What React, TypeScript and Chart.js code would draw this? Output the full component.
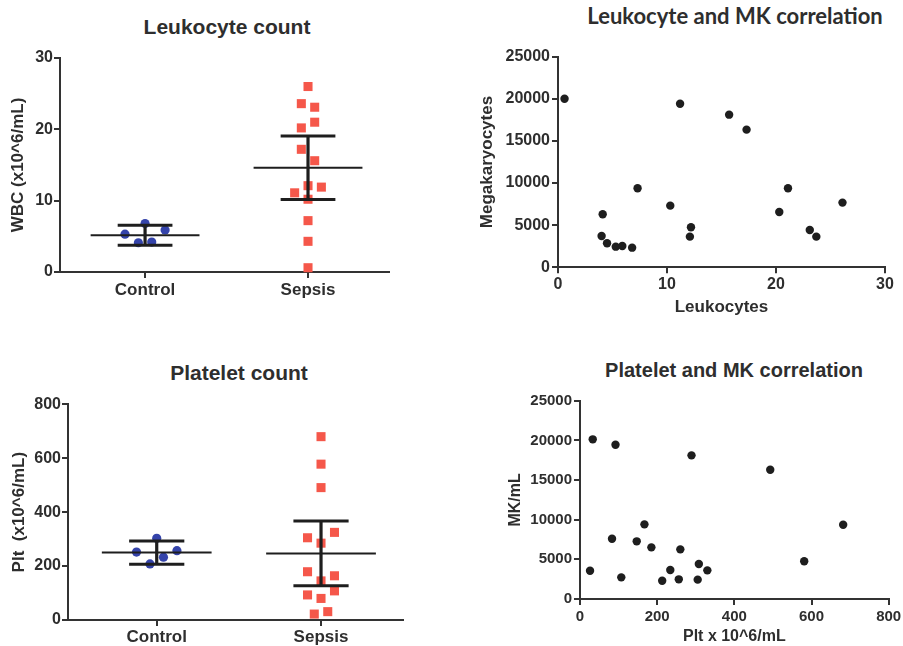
import React, { useEffect, useRef } from 'react';
import { Chart, registerables } from 'chart.js';

Chart.register(...registerables);

// ---------------- data ----------------
const CATEGORIES = ['Control', 'Sepsis'];

const WBC_CONTROL = [5.3, 6.8, 5.9, 4.1, 4.2];
const WBC_SEPSIS = [26.0, 23.6, 23.1, 21.0, 20.2, 17.2, 15.6, 12.1, 11.9, 11.1, 10.2, 7.2, 4.3, 0.6];
const WBC_MEAN = [5.15, 14.6];
const WBC_SD = [1.4, 4.45];
const WBC_TICKS = [0, 10, 20, 30];

const PLT_CONTROL = [252, 303, 257, 208, 233];
const PLT_SEPSIS = [680, 578, 491, 325, 305, 285, 179, 164, 145, 108, 93, 80, 31, 22];
const PLT_MEAN = [250, 247];
const PLT_SD = [43, 120];
const PLT_TICKS = [0, 200, 400, 600, 800];

const LEUKOCYTES = [0.6, 11.2, 15.7, 17.3, 7.3, 21.1, 10.3, 26.1, 20.3, 4.1, 12.2, 23.1, 4.0, 12.1, 23.7, 4.5, 5.3, 5.9, 6.8];
const MEGAKARYOCYTES = [20000, 19420, 18120, 16340, 9380, 9380, 7320, 7680, 6570, 6290, 4750, 4430, 3720, 3640, 3640, 2850, 2450, 2530, 2330];
const LEUKO_TICKS = [0, 10, 20, 30];
const MK_TICKS = [0, 5000, 10000, 15000, 20000, 25000];

const PLATELETS = [33, 92, 289, 493, 167, 682, 83, 147, 185, 260, 581, 308, 26, 234, 330, 107, 213, 256, 305];
const MK_PER_ML = [20130, 19450, 18110, 16300, 9410, 9370, 7600, 7270, 6510, 6260, 4750, 4410, 3570, 3660, 3610, 2730, 2310, 2480, 2440];
const PLT_X_TICKS = [0, 200, 400, 600, 800];

// ---------------- layout / style ----------------
const WBC_CONTROL_SLOT = [-3, 0, 3, -1, 1];
const WBC_SEPSIS_SLOT = [0, -1, 1, 1, -1, -1, 1, 0, 2, -2, 0, 0, 0, 0];
const PLT_CONTROL_SLOT = [-3, 0, 3, -1, 1];
const PLT_SEPSIS_SLOT = [0, 0, 0, 2, -2, 0, -2, 2, 0, 2, -2, 0, 1, -1];

const SLOT = 0.041;
const MEAN_HALF = 0.334;
const CAP_HALF = 0.168;

const FONT = '"Liberation Sans", Arial, Helvetica, sans-serif';
const TEXT = '#2e2e2e';
const AXIS = '#333333';
const BLUE = '#3443aa';
const RED = '#f5574a';
const DOT = '#1e1e1e';

Chart.defaults.font.family = FONT;
Chart.defaults.color = TEXT;

function fixedTicks(values: number[]) {
  return (s: any) => {
    s.ticks = values.map((v) => ({ value: v }));
  };
}

function axisBase(tickFont: number, tickPad: number) {
  return {
    ticks: { font: { size: tickFont, weight: 'bold' }, color: TEXT, padding: tickPad, autoSkip: false, maxRotation: 0 },
    grid: { drawOnChartArea: false, drawTicks: true, tickLength: 6, color: AXIS, lineWidth: 2 },
    border: { display: true, color: AXIS, width: 2 },
  };
}

function seg(data: { x: number; y: number }[], w: number) {
  return {
    data,
    showLine: true,
    borderColor: '#1e1e1e',
    borderWidth: w,
    pointRadius: 0,
    borderCapStyle: 'butt',
    fill: false,
    order: 0,
    clip: false,
  };
}

type DotOpts = {
  control: number[];
  sepsis: number[];
  controlSlot: number[];
  sepsisSlot: number[];
  mean: number[];
  sd: number[];
  yTicks: number[];
  yTitle: string;
  xMin: number;
  xMax: number;
  yWidth: number;
  xHeight: number;
  padTop: number;
  padRight: number;
  yTitlePad: number;
  xLabelPad: number;
};

function dotPlot(o: DotOpts) {
  const errorSets: any[] = [];
  o.mean.forEach((m, i) => {
    const x = i + 1;
    const s = o.sd[i];
    errorSets.push(seg([{ x, y: m - s }, { x, y: m + s }], 3.2));
    errorSets.push(seg([{ x: x - MEAN_HALF, y: m }, { x: x + MEAN_HALF, y: m }], 2));
    errorSets.push(seg([{ x: x - CAP_HALF, y: m + s }, { x: x + CAP_HALF, y: m + s }], 3));
    errorSets.push(seg([{ x: x - CAP_HALF, y: m - s }, { x: x + CAP_HALF, y: m - s }], 3));
  });
  const datasets = [
    ...errorSets,
    {
      data: o.control.map((v, j) => ({ x: 1 + o.controlSlot[j] * SLOT, y: v })),
      pointStyle: 'circle',
      pointRadius: 4.6,
      backgroundColor: BLUE,
      borderWidth: 0,
      order: 1,
      clip: false,
    },
    {
      data: o.sepsis.map((v, j) => ({ x: 2 + o.sepsisSlot[j] * SLOT, y: v })),
      pointStyle: 'rect',
      pointRadius: 6.4,
      backgroundColor: RED,
      borderWidth: 0,
      order: 1,
      clip: false,
    },
  ];
  const xb = axisBase(17, o.xLabelPad);
  const yb = axisBase(16, 1);
  return {
    type: 'scatter',
    data: { datasets },
    options: {
      responsive: false,
      animation: false,
      events: [],
      devicePixelRatio: 1,
      layout: { padding: { top: o.padTop, right: o.padRight, left: 0, bottom: 0 } },
      plugins: { legend: { display: false }, tooltip: { enabled: false }, title: { display: false } },
      scales: {
        x: {
          type: 'linear',
          min: o.xMin,
          max: o.xMax,
          afterBuildTicks: fixedTicks(CATEGORIES.map((_, i) => i + 1)),
          afterFit: (s: any) => {
            s.height = o.xHeight;
          },
          ...xb,
          ticks: { ...xb.ticks, callback: (v: any) => CATEGORIES[Math.round(v) - 1] ?? '' },
        },
        y: {
          type: 'linear',
          min: o.yTicks[0],
          max: o.yTicks[o.yTicks.length - 1],
          afterBuildTicks: fixedTicks(o.yTicks),
          afterFit: (s: any) => {
            s.width = o.yWidth;
          },
          ...yb,
          ticks: { ...yb.ticks, callback: (v: any) => String(v) },
          title: {
            display: true,
            text: o.yTitle,
            font: { size: 17, weight: 'bold' },
            color: TEXT,
            padding: { top: o.yTitlePad, bottom: 0 },
          },
        },
      },
    },
  };
}

type ScatterOpts = {
  xs: number[];
  ys: number[];
  xTicks: number[];
  yTicks: number[];
  xTitle: string;
  yTitle: string;
  titleFont: number;
  xTickFont: number;
  yTickFont: number;
  yWidth: number;
  xHeight: number;
  padTop: number;
  padRight: number;
  yTitlePad: number;
  xTitlePad: number;
  xLabelPad: number;
};

function scatterPlot(o: ScatterOpts) {
  const xb = axisBase(o.xTickFont, o.xLabelPad);
  const yb = axisBase(o.yTickFont, 2);
  return {
    type: 'scatter',
    data: {
      datasets: [
        {
          data: o.xs.map((x, i) => ({ x, y: o.ys[i] })),
          pointStyle: 'circle',
          pointRadius: 4.2,
          backgroundColor: DOT,
          borderWidth: 0,
          clip: false,
        },
      ],
    },
    options: {
      responsive: false,
      animation: false,
      events: [],
      devicePixelRatio: 1,
      layout: { padding: { top: o.padTop, right: o.padRight, left: 0, bottom: 0 } },
      plugins: { legend: { display: false }, tooltip: { enabled: false }, title: { display: false } },
      scales: {
        x: {
          type: 'linear',
          min: o.xTicks[0],
          max: o.xTicks[o.xTicks.length - 1],
          afterBuildTicks: fixedTicks(o.xTicks),
          afterFit: (s: any) => {
            s.height = o.xHeight;
          },
          ...xb,
          ticks: { ...xb.ticks, callback: (v: any) => String(v) },
          title: {
            display: true,
            text: o.xTitle,
            font: { size: o.titleFont, weight: 'bold' },
            color: TEXT,
            padding: { top: 0, bottom: o.xTitlePad },
          },
        },
        y: {
          type: 'linear',
          min: o.yTicks[0],
          max: o.yTicks[o.yTicks.length - 1],
          afterBuildTicks: fixedTicks(o.yTicks),
          afterFit: (s: any) => {
            s.width = o.yWidth;
          },
          ...yb,
          ticks: { ...yb.ticks, callback: (v: any) => String(v) },
          title: {
            display: true,
            text: o.yTitle,
            font: { size: o.titleFont, weight: 'bold' },
            color: TEXT,
            padding: { top: o.yTitlePad, bottom: 0 },
          },
        },
      },
    },
  };
}

function Panel({ left, top, width, height, build }: { left: number; top: number; width: number; height: number; build: () => any }) {
  const ref = useRef<HTMLCanvasElement>(null);
  useEffect(() => {
    const chart = new Chart(ref.current as HTMLCanvasElement, build());
    return () => chart.destroy();
  }, []);
  return (
    <canvas
      ref={ref}
      width={width}
      height={height}
      style={{ position: 'absolute', left, top, width, height, display: 'block' }}
    />
  );
}

function Title({ text, cx, cy, size, family }: { text: string; cx: number; cy: number; size: number; family?: string }) {
  return (
    <div
      style={{
        position: 'absolute',
        left: cx,
        top: cy,
        transform: 'translate(-50%, -50%)',
        whiteSpace: 'nowrap',
        fontFamily: family || FONT,
        fontWeight: 'bold',
        fontSize: size,
        lineHeight: 1,
        color: TEXT,
      }}
    >
      {text}
    </div>
  );
}

export default function App() {
  return (
    <div
      style={{
        position: 'absolute',
        left: 0,
        top: 0,
        width: 903,
        height: 646,
        overflow: 'hidden',
        background: '#ffffff',
      }}
    >
      <Title text="Leukocyte count" cx={227} cy={26} size={21} />
      <Title text="Leukocyte and MK correlation" cx={735} cy={16} size={22} family='Lato, "Liberation Sans", sans-serif' />
      <Title text="Platelet count" cx={239} cy={372} size={21} />
      <Title text="Platelet and MK correlation" cx={734} cy={370} size={20} />

      <Panel
        left={0}
        top={40}
        width={420}
        height={270}
        build={() =>
          dotPlot({
            control: WBC_CONTROL,
            sepsis: WBC_SEPSIS,
            controlSlot: WBC_CONTROL_SLOT,
            sepsisSlot: WBC_SEPSIS_SLOT,
            mean: WBC_MEAN,
            sd: WBC_SD,
            yTicks: WBC_TICKS,
            yTitle: 'WBC (x10^6/mL)',
            xMin: 0.478,
            xMax: 2.497,
            yWidth: 60,
            xHeight: 38,
            padTop: 18,
            padRight: 31,
            yTitlePad: 7.8,
            xLabelPad: 2,
          })
        }
      />
      <Panel
        left={470}
        top={35}
        width={450}
        height={285}
        build={() =>
          scatterPlot({
            xs: LEUKOCYTES,
            ys: MEGAKARYOCYTES,
            xTicks: LEUKO_TICKS,
            yTicks: MK_TICKS,
            xTitle: 'Leukocytes',
            yTitle: 'Megakaryocytes',
            titleFont: 17,
            xTickFont: 16,
            yTickFont: 16,
            yWidth: 88,
            xHeight: 52.7,
            padTop: 21.7,
            padRight: 35,
            yTitlePad: 6.8,
            xTitlePad: 2.8,
            xLabelPad: 2,
          })
        }
      />
      <Panel
        left={0}
        top={385}
        width={430}
        height={275}
        build={() =>
          dotPlot({
            control: PLT_CONTROL,
            sepsis: PLT_SEPSIS,
            controlSlot: PLT_CONTROL_SLOT,
            sepsisSlot: PLT_SEPSIS_SLOT,
            mean: PLT_MEAN,
            sd: PLT_SD,
            yTicks: PLT_TICKS,
            yTitle: 'Plt  (x10^6/mL)',
            xMin: 0.46,
            xMax: 2.499,
            yWidth: 68,
            xHeight: 40,
            padTop: 19.3,
            padRight: 27,
            yTitlePad: 8.8,
            xLabelPad: 1,
          })
        }
      />
      <Panel
        left={480}
        top={385}
        width={440}
        height={275}
        build={() =>
          scatterPlot({
            xs: PLATELETS,
            ys: MK_PER_ML,
            xTicks: PLT_X_TICKS,
            yTicks: MK_TICKS,
            xTitle: 'Plt x 10^6/mL',
            yTitle: 'MK/mL',
            titleFont: 16,
            xTickFont: 15,
            yTickFont: 15,
            yWidth: 100,
            xHeight: 61,
            padTop: 15.7,
            padRight: 31.3,
            yTitlePad: 26.4,
            xTitlePad: 13.4,
            xLabelPad: 2.5,
          })
        }
      />
    </div>
  );
}
